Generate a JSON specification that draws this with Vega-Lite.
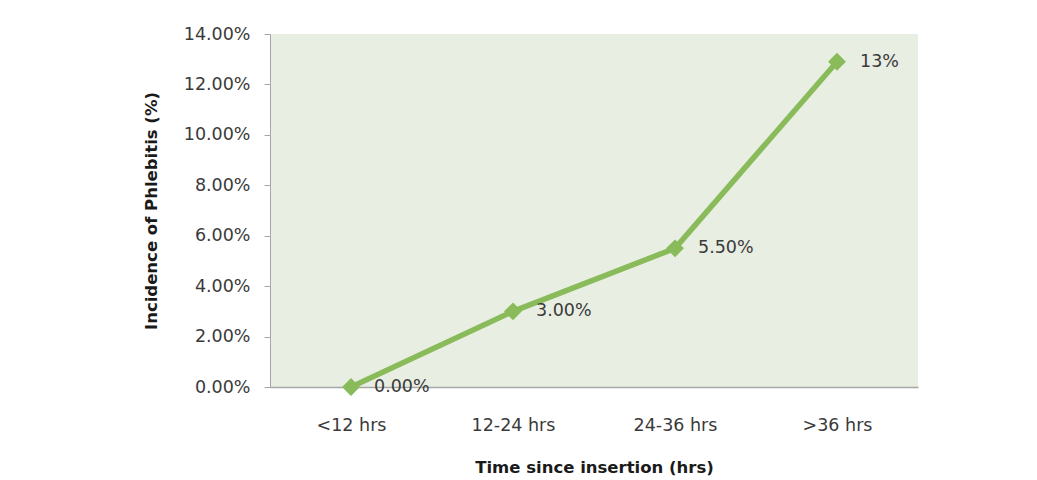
{
  "$schema": "https://vega.github.io/schema/vega-lite/v6.json",
  "width": 648,
  "height": 353,
  "autosize": {"type": "none"},
  "padding": {"left": 270, "top": 34, "right": 119, "bottom": 93},
  "background": "white",
  "config": {
    "view": {"fill": "#e9eee3", "stroke": null},
    "font": "DejaVu Sans"
  },
  "data": {
    "values": [
      {"time": "<12 hrs", "incidence": 0.0, "label": "0.00%"},
      {"time": "12-24 hrs", "incidence": 0.03, "label": "3.00%"},
      {"time": "24-36 hrs", "incidence": 0.055, "label": "5.50%"},
      {"time": ">36 hrs", "incidence": 0.129, "label": "13%"}
    ]
  },
  "encoding": {
    "x": {
      "field": "time",
      "type": "ordinal",
      "sort": null,
      "scale": {"type": "point", "padding": 0.5},
      "axis": {
        "title": "Time since insertion (hrs)",
        "labelAngle": 0,
        "ticks": false,
        "grid": false,
        "domainColor": "#a6a6a6",
        "domainWidth": 1.5,
        "labelFont": "DejaVu Sans",
        "labelFontSize": 17.5,
        "labelColor": "#3a3a3a",
        "labelPadding": 29,
        "titleFont": "DejaVu Sans",
        "titleFontSize": 16.5,
        "titleFontWeight": "bold",
        "titleColor": "#1a1a1a",
        "titlePadding": 26
      }
    },
    "y": {
      "field": "incidence",
      "type": "quantitative",
      "scale": {"domain": [0, 0.14], "nice": false},
      "axis": {
        "title": "Incidence of Phlebitis (%)",
        "format": ".2%",
        "values": [0, 0.02, 0.04, 0.06, 0.08, 0.1, 0.12, 0.14],
        "grid": false,
        "tickSize": 6,
        "tickColor": "#a6a6a6",
        "domainColor": "#a6a6a6",
        "labelFont": "DejaVu Sans",
        "labelFontSize": 17.5,
        "labelColor": "#3a3a3a",
        "labelPadding": 14,
        "titleFont": "DejaVu Sans",
        "titleFontSize": 16.5,
        "titleFontWeight": "bold",
        "titleColor": "#1a1a1a",
        "titlePadding": 24
      }
    }
  },
  "layer": [
    {
      "mark": {"type": "line", "color": "#8abb5a", "strokeWidth": 5.5}
    },
    {
      "mark": {"type": "point", "shape": "diamond", "filled": true, "color": "#8abb5a", "size": 320, "opacity": 1}
    },
    {
      "mark": {"type": "text", "align": "left", "baseline": "middle", "dx": 23, "fontSize": 17.5, "color": "#3a3a3a"},
      "encoding": {"text": {"field": "label"}}
    }
  ]
}
